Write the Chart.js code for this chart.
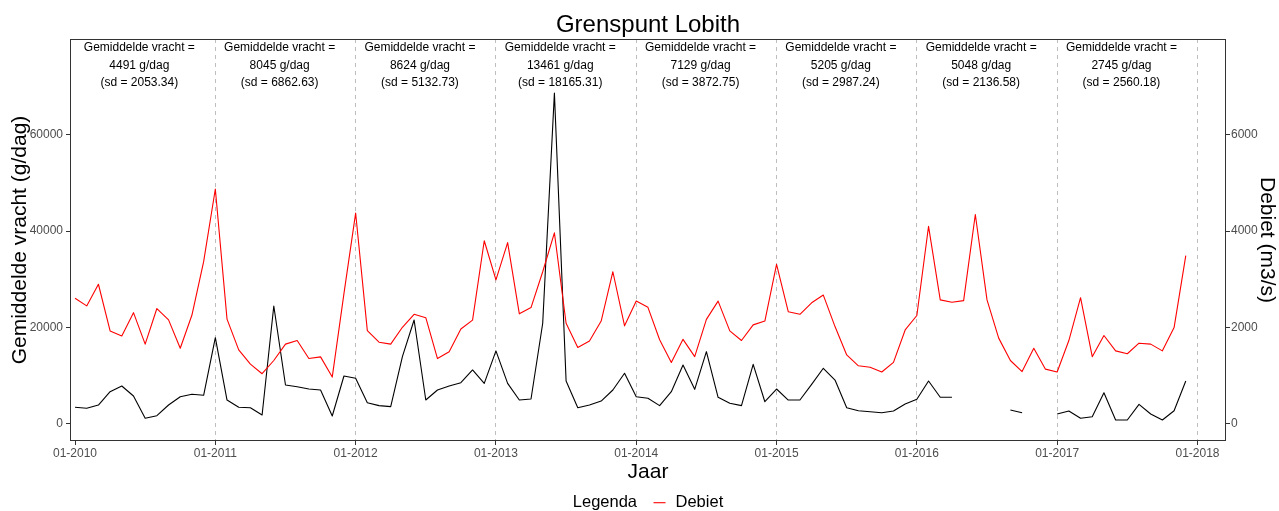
<!DOCTYPE html>
<html>
<head>
<meta charset="utf-8">
<script src="https://cdn.jsdelivr.net/npm/chart.js@4.4.0/dist/chart.umd.min.js"></script>
<style>
html,body{margin:0;padding:0;background:#ffffff;}
#wrap{width:1279px;height:511px;}
</style>
</head>
<body>
<div id="wrap"><canvas id="c" width="1279" height="511"></canvas></div>
<script>
// ---- data ----
const years = [2010, 2011, 2012, 2013, 2014, 2015, 2016, 2017];
const xTickLabels = ['01-2010','01-2011','01-2012','01-2013','01-2014','01-2015','01-2016','01-2017','01-2018'];
const leftTicks = [0, 20000, 40000, 60000];
const rightTicks = [0, 2000, 4000, 6000];

// Gemiddelde vracht (g/dag), monthly 01-2010 .. 12-2017 (null = missing)
const vracht2010 = [3370, 3160, 3840, 6610, 7800, 5720, 1080, 1620, 3840, 5570, 6070, 5860];
const vracht2011 = [17840, 4880, 3370, 3280, 1770, 24430, 8000, 7650, 7170, 6960, 1560, 9880];
const vracht2012 = [9400, 4330, 3710, 3500, 13890, 21520, 4880, 6960, 7800, 8490, 11130, 8350];
const vracht2013 = [15090, 8350, 4880, 5090, 20850, 68700, 8830, 3280, 3840, 4670, 6960, 10440];
const vracht2014 = [5570, 5240, 3710, 6610, 12160, 7110, 14930, 5450, 4200, 3710, 12310, 4530];
const vracht2015 = [7170, 4880, 4880, 8150, 11480, 9040, 3280, 2660, 2450, 2250, 2600, 4050];
const vracht2016 = [5030, 8830, 5450, 5450, null, null, null, null, 2810, 2250, null, null];
const vracht2017 = [1980, 2600, 1080, 1420, 6400, 730, 730, 3990, 1980, 730, 2660, 8830];

// Debiet (m3/s), monthly
const debiet2010 = [2605, 2445, 2895, 1925, 1820, 2305, 1650, 2390, 2155, 1565, 2255, 3365];
const debiet2011 = [4875, 2170, 1530, 1235, 1035, 1310, 1650, 1725, 1350, 1385, 965, 2700];
const debiet2012 = [4375, 1930, 1690, 1650, 2000, 2270, 2200, 1350, 1490, 1965, 2150, 3800];
const debiet2013 = [2985, 3760, 2280, 2410, 3155, 3965, 2085, 1580, 1715, 2130, 3155, 2030];
const debiet2014 = [2545, 2415, 1740, 1270, 1750, 1390, 2165, 2545, 1925, 1725, 2050, 2130];
const debiet2015 = [3310, 2325, 2270, 2510, 2670, 2015, 1425, 1200, 1170, 1070, 1270, 1945];
const debiet2016 = [2245, 4100, 2570, 2520, 2555, 4345, 2570, 1775, 1310, 1080, 1565, 1130];
const debiet2017 = [1070, 1725, 2615, 1390, 1830, 1510, 1450, 1670, 1650, 1510, 1995, 3490];

const meanVracht = [4491, 8045, 8624, 13461, 7129, 5205, 5048, 2745];
const sdVracht = ['2053.34', '6862.63', '5132.73', '18165.31', '3872.75', '2987.24', '2136.58', '2560.18'];

const vracht = [].concat(vracht2010, vracht2011, vracht2012, vracht2013, vracht2014, vracht2015, vracht2016, vracht2017);
const debiet = [].concat(debiet2010, debiet2011, debiet2012, debiet2013, debiet2014, debiet2015, debiet2016, debiet2017);

// ---- chart ----
const FONT = "'Liberation Sans', Arial, Helvetica, sans-serif";
Chart.defaults.font.family = FONT;

const decorPlugin = {
  id: 'decor',
  afterDatasetsDraw(chart) {
    const {ctx, chartArea: a, scales} = chart;
    ctx.save();
    // annotations per year
    ctx.fillStyle = '#000000';
    ctx.font = '12px ' + FONT;
    ctx.textAlign = 'center';
    ctx.textBaseline = 'alphabetic';
    years.forEach((yr, i) => {
      const px = scales.x.getPixelForValue(i * 12 + 5.5);
      ctx.fillText('Gemiddelde vracht =', px, a.top + 11.5);
      ctx.fillText(meanVracht[i] + ' g/dag', px, a.top + 29.5);
      ctx.fillText('(sd = ' + sdVracht[i] + ')', px, a.top + 47);
    });
    // panel border
    ctx.strokeStyle = '#333333';
    ctx.lineWidth = 1;
    ctx.strokeRect(Math.round(a.left) + 0.5, Math.round(a.top) + 0.5, Math.round(a.right - a.left) - 1, Math.round(a.bottom - a.top) - 1);
    ctx.restore();
  },
  afterDraw(chart) {
    const {ctx, chartArea: a} = chart;
    const cx = (a.left + a.right) / 2;
    ctx.save();
    ctx.fillStyle = '#000000';
    // title
    ctx.font = '24px ' + FONT;
    ctx.textAlign = 'center';
    ctx.textBaseline = 'alphabetic';
    ctx.fillText('Grenspunt Lobith', cx, 31.7);
    // legend
    const ds = chart.data.datasets[0];
    ctx.font = '16.5px ' + FONT;
    ctx.textAlign = 'left';
    ctx.textBaseline = 'middle';
    const t1 = 'Legenda', t2 = ds.label;
    const w1 = ctx.measureText(t1).width, w2 = ctx.measureText(t2).width;
    const gap1 = 16.5, lineW = 12, gap2 = 10;
    const total = w1 + gap1 + lineW + gap2 + w2;
    let x0 = cx - total / 2;
    const ly = 502.7;
    ctx.fillText(t1, x0, ly);
    x0 += w1 + gap1;
    ctx.strokeStyle = ds.borderColor;
    ctx.lineWidth = 1.1;
    ctx.beginPath();
    ctx.moveTo(x0, ly);
    ctx.lineTo(x0 + lineW, ly);
    ctx.stroke();
    x0 += lineW + gap2;
    ctx.fillText(t2, x0, ly);
    ctx.restore();
  }
};

new Chart(document.getElementById('c'), {
  type: 'line',
  data: {
    datasets: [
      {
        label: 'Debiet',
        data: debiet.map((v, i) => ({x: i, y: v})),
        yAxisID: 'y2',
        borderColor: '#FF0000',
        borderWidth: 1.1,
        pointRadius: 0,
        tension: 0,
        fill: false,
        borderJoinStyle: 'round'
      },
      {
        label: 'Vracht',
        data: vracht.map((v, i) => ({x: i, y: v})),
        yAxisID: 'y',
        borderColor: '#000000',
        borderWidth: 1.1,
        pointRadius: 0,
        tension: 0,
        fill: false,
        spanGaps: false,
        borderJoinStyle: 'round'
      }
    ]
  },
  options: {
    responsive: false,
    animation: false,
    devicePixelRatio: 1,
    layout: {padding: {top: 39, left: 0, right: 0, bottom: 25}},
    plugins: {
      legend: {display: false},
      title: {display: false},
      tooltip: {enabled: false}
    },
    scales: {
      x: {
        type: 'linear',
        position: 'bottom',
        min: -0.43,
        max: 98.44,
        afterBuildTicks: s => { s.ticks = xTickLabels.map((t, i) => ({value: i * 12})); },
        ticks: {
          callback: v => xTickLabels[Math.round(v / 12)],
          color: '#4D4D4D',
          font: {size: 12},
          padding: 1,
          maxRotation: 0,
          autoSkip: false
        },
        grid: {
          color: c => (c.index > 0 ? '#BEBEBE' : 'rgba(0,0,0,0)'),
          lineWidth: 1,
          drawOnChartArea: true,
          drawTicks: true,
          tickLength: 4,
          tickColor: '#333333',
          tickWidth: 1
        },
        border: {display: false, dash: [4, 4]},
        title: {display: true, text: 'Jaar', color: '#000000', font: {size: 21}, padding: {top: 0, bottom: 1}},
        afterFit: s => { s.height = 45; }
      },
      y: {
        position: 'left',
        min: -3638,
        max: 79938,
        afterBuildTicks: s => { s.ticks = leftTicks.map(v => ({value: v})); },
        ticks: {callback: v => String(v), color: '#4D4D4D', font: {size: 12}, padding: 3},
        grid: {drawOnChartArea: false, drawTicks: true, tickLength: 4, tickColor: '#333333', color: '#333333'},
        border: {display: false},
        title: {display: true, text: 'Gemiddelde vracht (g/dag)', color: '#000000', font: {size: 21}, padding: {top: 8, bottom: 0}},
        afterFit: s => { s.width = 70; }
      },
      y2: {
        position: 'right',
        min: -363.8,
        max: 7993.8,
        afterBuildTicks: s => { s.ticks = rightTicks.map(v => ({value: v})); },
        ticks: {callback: v => String(v), color: '#4D4D4D', font: {size: 12}, padding: 1},
        grid: {drawOnChartArea: false, drawTicks: true, tickLength: 4, tickColor: '#333333', color: '#333333'},
        border: {display: false},
        title: {display: true, text: 'Debiet (m3/s)', color: '#000000', font: {size: 21}, padding: {top: 0, bottom: 0}},
        afterFit: s => { s.width = 53; }
      }
    }
  },
  plugins: [decorPlugin]
});
</script>
</body>
</html>
